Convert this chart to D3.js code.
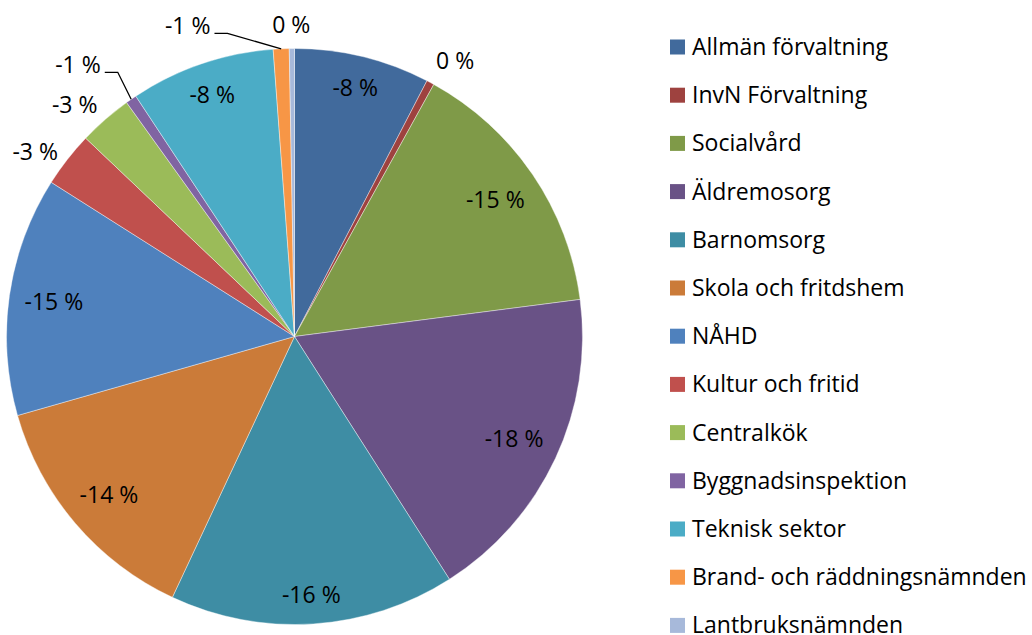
<!DOCTYPE html>
<html>
<head>
<meta charset="utf-8">
<script src="https://cdn.jsdelivr.net/npm/d3@7"></script>
<style>
  html, body { margin: 0; padding: 0; background: #fff; }
  svg text { font-family: "Open Sans", sans-serif; fill: #000; }
</style>
</head>
<body>
<svg id="chart_pie" width="1032" height="635"></svg>
<script>
// Categories in drawing order (clockwise from 12 o'clock)
const categories = [
    "Allmän förvaltning", "InvN Förvaltning", "Socialvård", "Äldremosorg",
    "Barnomsorg", "Skola och fritdshem", "NÅHD", "Kultur och fritid",
    "Centralkök", "Byggnadsinspektion", "Teknisk sektor",
    "Brand- och räddningsnämnden", "Lantbruksnämnden"
];

// Slice sizes (share of the pie, %)
const sliceShares = [7.6, 0.43, 14.9, 18.0, 16.0, 13.6, 13.4, 3.1, 3.0, 0.62, 8.1, 0.89, 0.29];

// Data label values (%)
const labelValues = [-8, 0, -15, -18, -16, -14, -15, -3, -3, -1, -8, -1, 0];

const sliceColours = [
    "#416a9c", "#9e423f", "#7f9a48", "#695286", "#3e8da4", "#cb7b39",
    "#4f81bd", "#c0504d", "#9bbb59", "#8064a2", "#4bacc6", "#f79646", "#a7b9da"
];

// Small slices get their label outside the pie
const outsideLimit = 4;

// Labels Excel moved away from the slice, with a leader line (angle deg, radius factor)
const leaderLabels = {
    "Byggnadsinspektion": [321.4, 1.205],
    "Brand- och räddningsnämnden": [341.0, 1.139]
};

const cx = 294.5, cy = 336.5, radius = 288;

const svg = d3.select("#chart_pie");

const pie = d3.pie()
    .value(d => d.share)
    .sort(null);

const arc = d3.arc()
    .innerRadius(0)
    .outerRadius(radius);

const data = categories.map((c, i) => ({ name: c, share: sliceShares[i], label: labelValues[i], colour: sliceColours[i] }));
const arcs = pie(data);

const g = svg.append("g")
    .attr("transform", `translate(${cx}, ${cy})`);

g.selectAll("path.slice")
    .data(arcs)
    .join("path")
    .attr("class", "slice")
    .attr("d", arc)
    .attr("fill", d => d.data.colour)
    .attr("stroke", "#fff")
    .attr("stroke-width", 0.4);

// Excel style: hyphen minus, space before %
const fmt = v => `${v} %`;
const clamp = (v, lo = -1, hi = 1) => Math.max(lo, Math.min(hi, v));

// Data labels
arcs.forEach(d => {
    const mid = (d.startAngle + d.endAngle) / 2;
    const s = Math.sin(mid), c = Math.cos(mid);

    const t = g.append("text")
        .attr("font-size", "23px")
        .attr("text-anchor", "middle")
        .attr("dy", "0.35em")
        .text(fmt(d.data.label));

    const hw = t.node().getComputedTextLength() / 2;
    const hh = 12;
    const as = Math.abs(s), ac = Math.abs(c);
    let x, y;

    if (leaderLabels[d.data.name]) {
        const [deg, f] = leaderLabels[d.data.name];
        const a = deg * Math.PI / 180;
        x = Math.sin(a) * radius * f;
        y = -Math.cos(a) * radius * f;

        // Leader line from the label to the slice edge
        const lx = x + hw + 4, ly = y + 7;
        g.append("polyline")
            .attr("points", [[lx, ly], [lx + 13, ly], [s * radius, -c * radius]].map(p => p.join(",")).join(" "))
            .attr("fill", "none")
            .attr("stroke", "#000")
            .attr("stroke-width", 1.3);
    } else if (d.data.share < outsideLimit) {
        // anchor just outside the rim, box hangs away from the pie
        const D = radius + 12;
        x = s * D + hw * clamp(3 * s);
        y = -c * D - hh * clamp(4 * c - 2.6, 0, 1);
    } else {
        // farthest box corner sits just inside the rim
        const D = radius - 14;
        const b = hw * as + hh * ac;
        const dist = -b + Math.sqrt(b * b - hw * hw - hh * hh + D * D);
        x = s * dist;
        y = -c * dist;
    }

    t.attr("x", x).attr("y", y);
});

// Legend
const legendX = 670, legendY = 47, legendStep = 48.2;

const legend = svg.append("g")
    .attr("class", "legend");

const items = legend.selectAll("g")
    .data(data)
    .join("g")
    .attr("transform", (d, i) => `translate(${legendX}, ${legendY + i * legendStep})`);

items.append("rect")
    .attr("x", 0)
    .attr("y", -7.5)
    .attr("width", 15)
    .attr("height", 15)
    .attr("fill", d => d.colour);

items.append("text")
    .attr("x", 22)
    .attr("y", 0)
    .attr("dy", "0.35em")
    .attr("font-size", "23px")
    .text(d => d.name);
</script>
</body>
</html>
